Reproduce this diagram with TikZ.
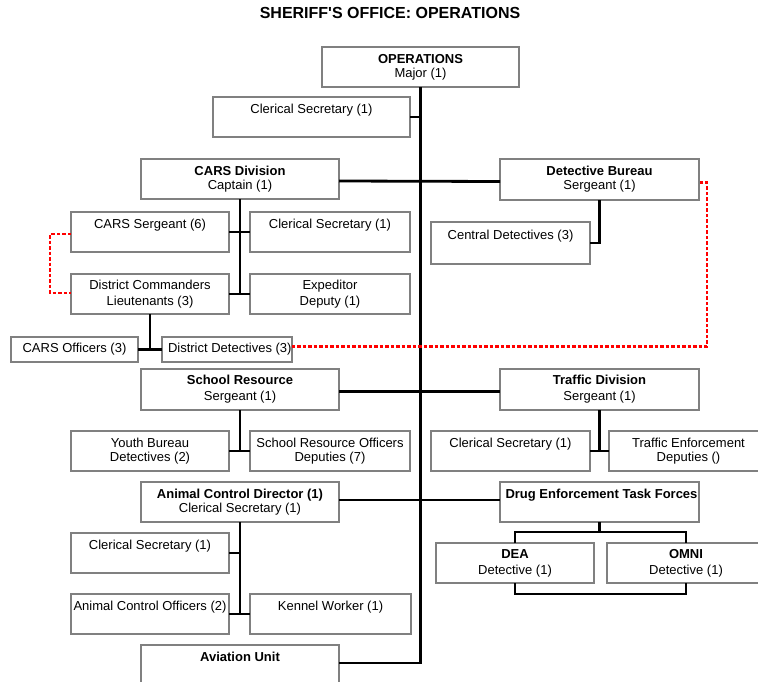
\documentclass[tikz,border=0pt]{standalone}
\usepackage{fontspec}
\setmainfont{Liberation Sans}
\begin{document}
\begin{tikzpicture}[x=1pt,y=-1pt,
  box/.style={draw=black!50, line width=2pt, inner sep=0pt, outer sep=0pt, anchor=north west, align=center, font=\fontsize{13}{16}\selectfont},
  tight/.style={font=\fontsize{13}{14}\selectfont},
  conn/.style={draw=black, line width=2.8pt},
  reddot/.style={draw=red, line width=2.2pt, dash pattern=on 3.5pt off 2pt}]
\useasboundingbox (0,0) rectangle (758,682);
\node[font=\fontsize{16}{18}\selectfont\bfseries] (title) at (390,13) {SHERIFF\textquotesingle S OFFICE: OPERATIONS};
% boxes
\node[box, tight, minimum width=197, minimum height=40] (ops) at (322,47) {\textbf{OPERATIONS}\\Major (1)};
\node[box, minimum width=197, minimum height=40] (cs0) at (213,97) {Clerical Secretary (1)\\\mbox{}};
\node[box, tight, minimum width=198, minimum height=40] (cars) at (141,159) {\textbf{CARS Division}\\Captain (1)};
\node[box, tight, minimum width=199, minimum height=41] (det) at (500,159) {\textbf{Detective Bureau}\\Sergeant (1)};
\node[box, minimum width=158, minimum height=40] (sgt) at (71,212) {CARS Sergeant (6)\\\mbox{}};
\node[box, minimum width=160, minimum height=40] (cs1) at (250,212) {Clerical Secretary (1)\\\mbox{}};
\node[box, minimum width=158, minimum height=40] (dc) at (71,274) {District Commanders\\Lieutenants (3)};
\node[box, minimum width=160, minimum height=40] (exp) at (250,274) {Expeditor\\Deputy (1)};
\node[box, minimum width=159, minimum height=42] (cdet) at (431,222) {Central Detectives (3)\\\mbox{}};
\node[box, minimum width=127, minimum height=25] (coff) at (11,337) {CARS Officers (3)};
\node[box, minimum width=129, minimum height=25] (ddet) at (162,337) {\hspace{6pt}District Detectives (3)};
\node[box, minimum width=198, minimum height=41] (sr) at (141,369) {\textbf{School Resource}\\Sergeant (1)};
\node[box, minimum width=199, minimum height=41] (tr) at (500,369) {\textbf{Traffic Division}\\Sergeant (1)};
\node[box, tight, minimum width=158, minimum height=40] (yb) at (71,431) {Youth Bureau\\Detectives (2)};
\node[box, tight, minimum width=160, minimum height=40] (sro) at (250,431) {School Resource Officers\\Deputies (7)};
\node[box, minimum width=159, minimum height=40] (tcs) at (431,431) {Clerical Secretary (1)\\\mbox{}};
\node[box, tight, minimum width=159, minimum height=40] (tre) at (609,431) {Traffic Enforcement\\Deputies ()};
\node[box, tight, minimum width=198, minimum height=40] (acd) at (141,482) {\textbf{Animal Control Director (1)}\\Clerical Secretary (1)};
\node[box, minimum width=199, minimum height=40] (drug) at (500,482) {\hspace{4pt}\textbf{Drug Enforcement Task Forces}\\\mbox{}};
\node[box, minimum width=158, minimum height=40] (acs) at (71,533) {Clerical Secretary (1)\\\mbox{}};
\node[box, minimum width=158, minimum height=40] (aco) at (71,594) {Animal Control Officers (2)\\\mbox{}};
\node[box, minimum width=161, minimum height=40] (kw) at (250,594) {Kennel Worker (1)\\\mbox{}};
\node[box, minimum width=158, minimum height=40] (dea) at (436,543) {\textbf{DEA}\\Detective (1)};
\node[box, minimum width=158, minimum height=40] (omni) at (607,543) {\textbf{OMNI}\\Detective (1)};
\node[box, minimum width=198, minimum height=40] (avi) at (141,645) {\textbf{Aviation Unit}\\\mbox{}};
% main spine
\draw[conn] (ops.south) |- ([yshift=2pt]avi.east);
\draw[conn] (cs0.east) -- (cs0.east -| ops.south);
\draw[conn] ([yshift=-2pt]cars.east) -- ([yshift=-2pt]det.west);
\draw[conn] ([yshift=-2pt]sr.east) -- ([yshift=-2pt]tr.west);
\draw[conn] ([yshift=2pt]acd.east) -- ([yshift=2pt]drug.west);
% CARS subtree
\draw[conn] (cars.south) -- (cars.south |- dc.east);
\draw[conn] (sgt.east) -- (cs1.west);
\draw[conn] (dc.east) -- (exp.west);
\draw[conn] (dc.south) -- (dc.south |- coff.east);
\draw[conn] (coff.east) -- (ddet.west);
\draw[reddot] ([yshift=-2pt]sgt.west) -- ++(-21,0) |- ([yshift=1pt]dc.west);
\coordinate (rc) at (707,0);
\draw[reddot] ([yshift=3pt]ddet.east) -- ([yshift=3pt]ddet.east -| rc) |- ([yshift=-3pt]det.east);
% Detective subtree
\draw[conn] (det.south) |- (cdet.east);
% School subtree
\draw[conn] (sr.south) -- (sr.south |- yb.east);
\draw[conn] (yb.east) -- (sro.west);
% Traffic subtree
\draw[conn] (tr.south) -- (tr.south |- tcs.east);
\draw[conn] (tcs.east) -- (tre.west);
% Animal subtree
\draw[conn] (acd.south) -- (acd.south |- aco.east);
\draw[conn] (acs.east) -- (acs.east -| acd.south);
\draw[conn] (aco.east) -- (kw.west);
% Drug subtree
\coordinate (dj) at ([yshift=-10pt]drug.south);
\draw[conn] (drug.south) -- (dj);
\draw[conn] (dea.north) |- (dj) -| (omni.north);
\draw[conn] (dea.south) -- ++(0,11) -| (omni.south);
\end{tikzpicture}
\end{document}
